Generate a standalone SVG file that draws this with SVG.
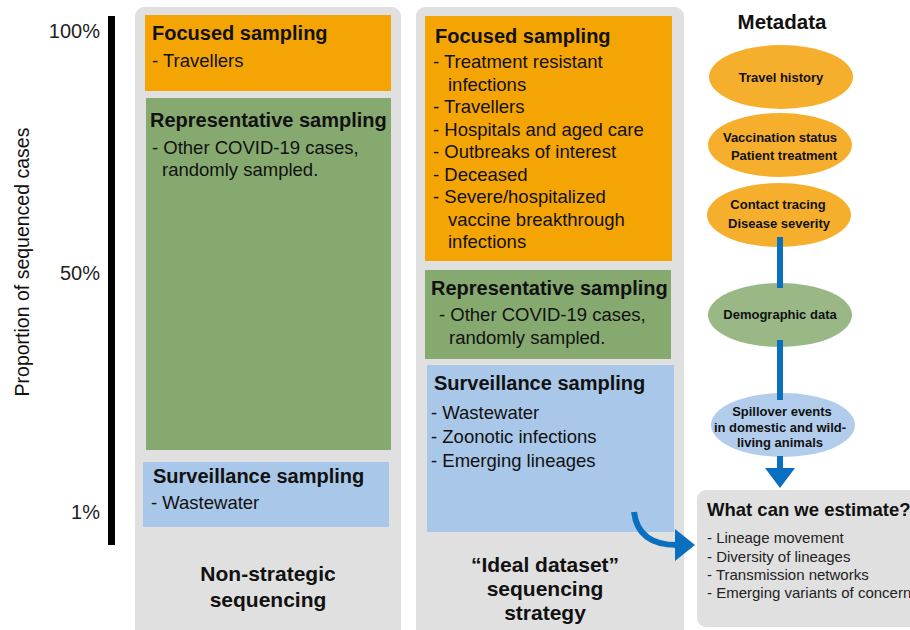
<svg xmlns="http://www.w3.org/2000/svg" width="910" height="630" viewBox="0 0 910 630">
  <style>
    text { font-family: "Liberation Sans", Arial, Helvetica, sans-serif; fill: #111; }
    .panel { fill: #E0E0E0; }
    .focus { fill: #F5A503; }
    .rep { fill: #86A970; }
    .surv { fill: #A9C7E8; }
    .h { font-size: 20px; font-weight: bold; }
    .it { font-size: 18.5px; }
    .foot { font-size: 21px; font-weight: bold; text-anchor: middle; }
    .ax { font-size: 20px; text-anchor: end; fill: #222; }
    .el { font-size: 13px; font-weight: bold; text-anchor: middle; }
    .est { font-size: 15px; fill: #222; }
    .link { stroke: #0A6FBE; stroke-width: 6; fill: none; }
  </style>
  <rect width="910" height="630" fill="#FFFFFF"/>

  <!-- axis -->
  <g id="axis">
    <rect x="108" y="16" width="7" height="529" fill="#000"/>
    <text class="ax" x="100" y="38">100%</text>
    <text class="ax" x="100" y="280">50%</text>
    <text class="ax" x="100" y="519">1%</text>
    <text x="29" y="262" font-size="19.5" text-anchor="middle" fill="#222" transform="rotate(-90 29 262)">Proportion of sequenced cases</text>
  </g>

  <!-- non-strategic column -->
  <g id="non-strategic">
    <rect class="panel" x="135" y="7" width="266" height="640" rx="9"/>
    <text class="foot" x="268" y="581">Non-strategic</text>
    <text class="foot" x="268" y="607">sequencing</text>
  </g>
  <g id="ns-focused">
    <rect class="focus" x="145" y="15" width="246" height="76"/>
    <text class="h" x="152" y="40">Focused sampling</text>
    <text class="it" x="152" y="67">- Travellers</text>
  </g>
  <g id="ns-representative">
    <rect class="rep" x="146" y="98" width="245" height="352"/>
    <text class="h" x="150" y="127">Representative sampling</text>
    <text class="it" x="152" y="154">- Other COVID-19 cases,</text>
    <text class="it" x="162" y="176">randomly sampled.</text>
  </g>
  <g id="ns-surveillance">
    <rect class="surv" x="143" y="462" width="246" height="65"/>
    <text class="h" x="153" y="483">Surveillance sampling</text>
    <text class="it" x="151" y="509">- Wastewater</text>
  </g>

  <!-- ideal dataset column -->
  <g id="ideal">
    <rect class="panel" x="416" y="7" width="268" height="640" rx="9"/>
    <text class="foot" x="545" y="572">“Ideal dataset”</text>
    <text class="foot" x="545" y="596">sequencing</text>
    <text class="foot" x="545" y="620">strategy</text>
  </g>
  <g id="ideal-focused">
    <rect class="focus" x="425" y="16" width="247" height="245"/>
    <text class="h" x="435" y="43">Focused sampling</text>
    <text class="it" x="433" y="68">- Treatment resistant</text>
    <text class="it" x="448" y="91">infections</text>
    <text class="it" x="433" y="113">- Travellers</text>
    <text class="it" x="433" y="136">- Hospitals and aged care</text>
    <text class="it" x="433" y="158">- Outbreaks of interest</text>
    <text class="it" x="433" y="181">- Deceased</text>
    <text class="it" x="433" y="203">- Severe/hospitalized</text>
    <text class="it" x="448" y="226">vaccine breakthrough</text>
    <text class="it" x="448" y="248">infections</text>
  </g>
  <g id="ideal-representative">
    <rect class="rep" x="425" y="270" width="246" height="89"/>
    <text class="h" x="431" y="295">Representative sampling</text>
    <text class="it" x="439" y="321">- Other COVID-19 cases,</text>
    <text class="it" x="449" y="344">randomly sampled.</text>
  </g>
  <g id="ideal-surveillance">
    <rect class="surv" x="427" y="365" width="247" height="167"/>
    <text class="h" x="434" y="390">Surveillance sampling</text>
    <text class="it" x="431" y="419">- Wastewater</text>
    <text class="it" x="431" y="443">- Zoonotic infections</text>
    <text class="it" x="431" y="467">- Emerging lineages</text>
  </g>

  <!-- metadata -->
  <g id="metadata-title">
    <text x="782" y="29" font-size="20.5" font-weight="bold" text-anchor="middle">Metadata</text>
  </g>
  <g id="travel">
    <ellipse cx="781" cy="77" rx="72" ry="32" fill="#F6AF2C"/>
    <text class="el" x="781" y="82">Travel history</text>
  </g>
  <g id="vaccination">
    <ellipse cx="780" cy="145" rx="72" ry="32" fill="#F6AF2C"/>
    <text class="el" x="780" y="142">Vaccination status</text>
    <text class="el" x="784" y="160">Patient treatment</text>
  </g>
  <g id="contact">
    <ellipse cx="779" cy="215" rx="72" ry="32" fill="#F6AF2C"/>
    <text class="el" x="778" y="209">Contact tracing</text>
    <text class="el" x="779" y="228">Disease severity</text>
  </g>
  <g id="demographic">
    <ellipse cx="780" cy="315" rx="72" ry="32" fill="#99B886"/>
    <text class="el" x="780" y="319">Demographic data</text>
  </g>
  <g id="spillover">
    <ellipse cx="783" cy="425" rx="72" ry="32" fill="#B2CDEC"/>
    <text class="el" x="782" y="416">Spillover events</text>
    <text class="el" x="780" y="432">in domestic and wild-</text>
    <text class="el" x="780" y="447">living animals</text>
  </g>

  <g id="estimate">
    <rect x="697" y="490" width="230" height="137" rx="9" fill="#E0E0E0"/>
    <text x="707" y="516" font-size="18.5" font-weight="bold">What can we estimate?</text>
    <text class="est" x="707" y="543">- Lineage movement</text>
    <text class="est" x="707" y="562">- Diversity of lineages</text>
    <text class="est" x="707" y="580">- Transmission networks</text>
    <text class="est" x="707" y="598">- Emerging variants of concern</text>
  </g>

  <!-- connectors -->
  <g id="connectors">
    <line class="link" x1="780" y1="237" x2="780" y2="288"/>
    <line class="link" x1="780" y1="340" x2="780" y2="400"/>
    <line class="link" x1="780" y1="456" x2="780" y2="470"/>
    <polygon points="765,468 795,468 780,488" fill="#0A6FBE"/>
    <path class="link" d="M634 512 Q638 545 677 545"/>
    <polygon points="675,529 695,545 675,561" fill="#0A6FBE"/>
  </g>
</svg>
